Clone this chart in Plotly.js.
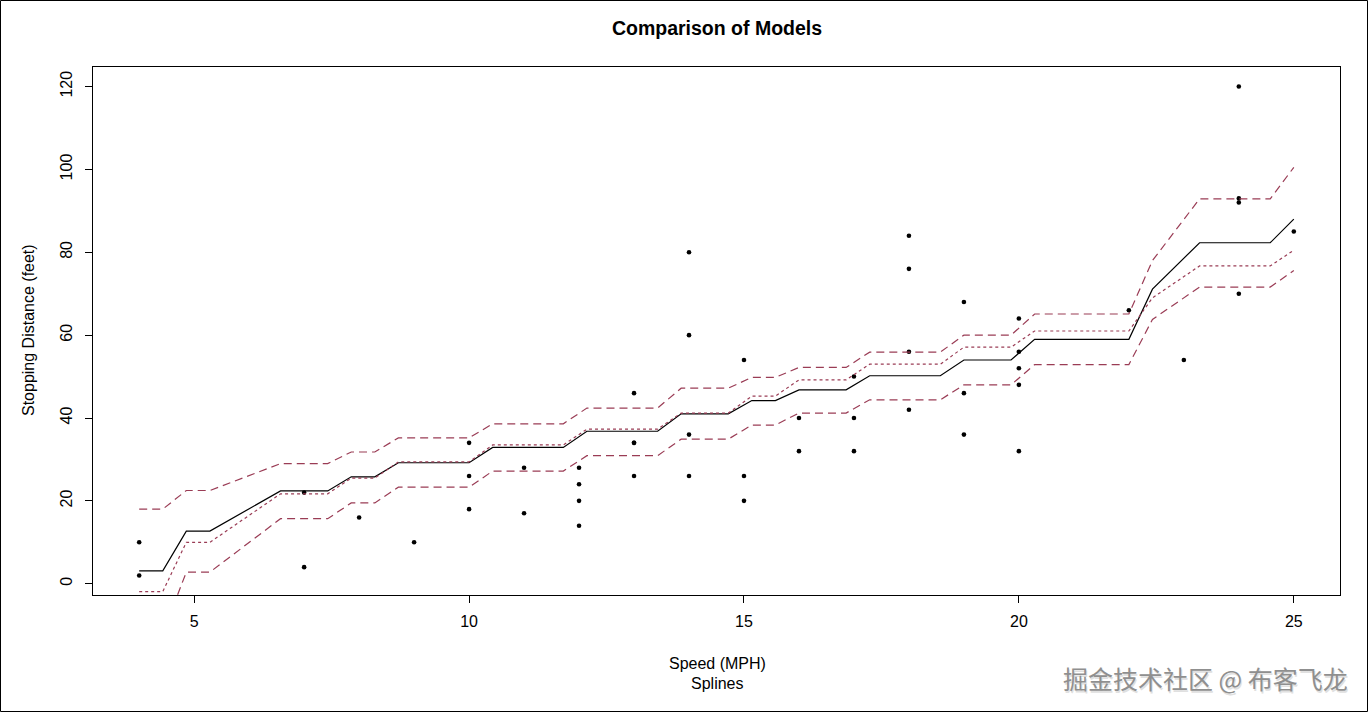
<!DOCTYPE html>
<html>
<head>
<meta charset="utf-8">
<script src="https://cdn.plot.ly/plotly-3.0.1.min.js"></script>
<style>html,body{margin:0;padding:0;background:#fff;}#chart{width:1368px;height:712px;}</style>
</head>
<body>
<div id="chart"></div>
<script>
// cars data
var speed = [4,4,7,7,8,9,10,10,10,11,11,12,12,12,12,13,13,13,13,14,14,14,14,15,15,15,16,16,17,17,17,18,18,18,18,19,19,19,20,20,20,20,20,22,23,24,24,24,24,25];
var dist  = [2,10,4,22,16,10,18,26,34,17,28,14,20,24,28,26,34,34,46,26,36,60,80,20,26,54,32,40,32,40,50,42,56,76,84,36,46,68,32,48,52,56,64,66,54,70,92,93,120,85];

// curve vertices
var gridX = [4,4.429,4.857,5.286,6.571,7.429,7.857,8.286,8.714,10.0,10.429,11.714,12.143,13.429,13.857,14.714,15.143,15.571,16.0,16.857,17.286,18.571,19.0,19.857,20.286,22.0,22.429,23.286,24.571,25];
var fitSolid = [3.1,3.1,12.7,12.7,22.4,22.4,25.8,25.8,29.2,29.2,32.9,32.9,36.8,36.8,41.0,41.0,44.2,44.2,46.8,46.8,50.2,50.2,54.0,54.0,59.0,59.0,71.1,82.3,82.3,88.0];
var fitDotted = [-1.9,-1.9,10.0,10.0,21.7,21.7,25.5,25.5,29.4,29.4,33.5,33.5,37.3,37.3,41.2,41.2,45.3,45.3,49.2,49.2,53.0,53.0,57.1,57.1,61.0,61.0,69.0,76.7,76.7,80.5];
var upperBand = [18.0,18.0,22.5,22.5,29.0,29.0,31.8,31.8,35.2,35.2,38.6,38.6,42.4,42.4,47.2,47.2,49.8,49.8,52.2,52.2,55.9,55.9,60.0,60.0,65.1,65.1,78.0,92.9,92.9,100.5];
var lowerBand = [-12,-12,2.8,2.8,15.7,15.7,19.5,19.5,23.3,23.3,27.2,27.2,30.9,30.9,34.9,34.9,38.3,38.3,41.2,41.2,44.4,44.4,48.0,48.0,52.9,52.9,63.8,71.6,71.6,75.6];

var xTicks = [5,10,15,20,25];
var yTicks = [0,20,40,60,80,100,120];

var bandColor = '#9a3c55';
var traces = [
  {x: speed, y: dist, mode: 'markers', type: 'scatter', marker: {color: '#000', size: 4.6}, cliponaxis: true},
  {x: gridX, y: fitSolid, mode: 'lines', type: 'scatter', line: {color: '#000', width: 1.2}},
  {x: gridX, y: fitDotted, mode: 'lines', type: 'scatter', line: {color: bandColor, width: 1.2, dash: 'dot'}},
  {x: gridX, y: upperBand, mode: 'lines', type: 'scatter', line: {color: bandColor, width: 1.2, dash: '8px,5px'}},
  {x: gridX, y: lowerBand, mode: 'lines', type: 'scatter', line: {color: bandColor, width: 1.2, dash: '8px,5px'}}
];

var font = {family: 'Liberation Sans, Arial, sans-serif', size: 16, color: '#000'};
var layout = {
  width: 1368, height: 712,
  margin: {l: 93, r: 28, t: 67, b: 117},
  paper_bgcolor: '#fff', plot_bgcolor: '#fff',
  showlegend: false,
  font: font,
  title: {text: '<b>Comparison of Models</b>', font: {family: 'Liberation Sans, Arial, sans-serif', size: 19.5, color: '#000'}, x: (717-93)/1247, xanchor: 'center', y: 1 - 28/712, yanchor: 'middle', xref: 'paper'},
  xaxis: {range: [3.16, 25.84], tickvals: xTicks, ticktext: xTicks.map(String), ticks: 'outside', ticklen: 7, tickcolor: '#000', showline: true, mirror: true, linecolor: '#000', linewidth: 1, showgrid: false, zeroline: false, tickfont: font, ticklabelstandoff: 5},
  yaxis: {range: [-2.72, 124.72], tickvals: yTicks, ticktext: yTicks.map(String), ticks: 'outside', ticklen: 7, tickcolor: '#000', showline: true, mirror: true, linecolor: '#000', linewidth: 1, showgrid: false, zeroline: false, tickangle: -90, tickfont: font, ticklabelstandoff: 7},
  annotations: [
    {text: 'Speed (MPH)', xref: 'paper', yref: 'paper', x: (717-93)/1247, y: (595-663)/528, xanchor: 'center', yanchor: 'middle', showarrow: false, font: font},
    {text: 'Splines', xref: 'paper', yref: 'paper', x: (717-93)/1247, y: (595-683)/528, xanchor: 'center', yanchor: 'middle', showarrow: false, font: font},
    {text: 'Stopping Distance (feet)', xref: 'paper', yref: 'paper', x: (28-93)/1247, y: (595-330)/528, xanchor: 'center', yanchor: 'middle', textangle: -90, showarrow: false, font: font},
    {text: '掘金技术社区 @ 布客飞龙', xref: 'paper', yref: 'paper', x: (1206-93)/1247 + 0.0008, y: (595-679)/528 - 0.002, xanchor: 'center', yanchor: 'middle', showarrow: false, font: {family: 'Noto Sans CJK SC', size: 25, color: '#e0e0e0'}},
    {text: '掘金技术社区 @ 布客飞龙', xref: 'paper', yref: 'paper', x: (1205-93)/1247, y: (595-678)/528, xanchor: 'center', yanchor: 'middle', showarrow: false, font: {family: 'Noto Sans CJK SC', size: 25, color: '#8f8f8f'}}
  ],
  shapes: [
    {type: 'rect', xref: 'paper', yref: 'paper', x0: (0.5-93)/1247, x1: (1367.5-93)/1247, y0: (595-711.5)/528, y1: (595-0.5)/528, line: {color: '#000', width: 1}}
  ]
};
Plotly.newPlot('chart', traces, layout, {staticPlot: true, displayModeBar: false});
</script>
</body>
</html>
